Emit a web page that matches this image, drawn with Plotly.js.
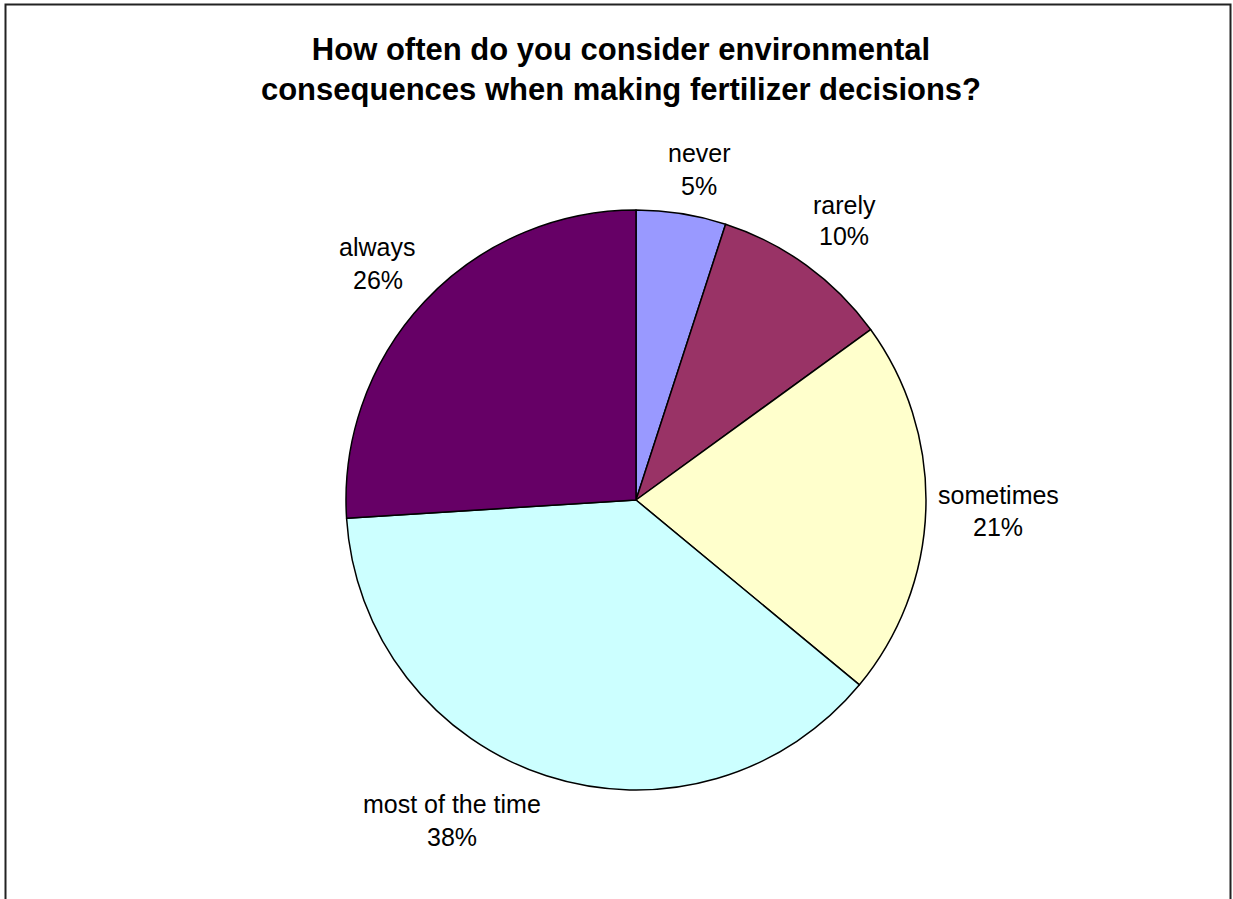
<!DOCTYPE html>
<html>
<head>
<meta charset="utf-8">
<script src="https://cdn.plot.ly/plotly-3.0.1.min.js"></script>
<style>
html,body{margin:0;padding:0;background:#fff;}
#chart{width:1233px;height:899px;}
</style>
</head>
<body>
<div id="chart"></div>
<script>
// Data
const categories = ["never", "rarely", "sometimes", "most of the time", "always"];
const percents = [5, 10, 21, 38, 26];
const colors = ["#9999FF", "#993366", "#FFFFCC", "#CCFFFF", "#660066"];
const chartTitle = "How often do you consider environmental<br>consequences when making fertilizer decisions?";

// Label placement (pixel centres of the two text lines of each label)
const labelPos = [
  {x1: 699, y1: 153, x2: 699, y2: 186},
  {x1: 844, y1: 205, x2: 844, y2: 236},
  {x1: 998, y1: 495, x2: 998, y2: 527},
  {x1: 452, y1: 804, x2: 452, y2: 837},
  {x1: 377, y1: 247, x2: 378, y2: 280}
];

const W = 1233, H = 899;
const px = x => x / W;
const py = y => 1 - y / H;

const cx = 636, cy = 500, r = 290;
const labelFont = {family:'Liberation Sans, Arial, sans-serif', size:25, color:'#000'};

const annotations = [];
categories.forEach((c, i) => {
  const p = labelPos[i];
  annotations.push({xref:'paper', yref:'paper', x: px(p.x1), y: py(p.y1), text: c,
    showarrow:false, xanchor:'center', yanchor:'middle', font: labelFont});
  annotations.push({xref:'paper', yref:'paper', x: px(p.x2), y: py(p.y2), text: percents[i] + '%',
    showarrow:false, xanchor:'center', yanchor:'middle', font: labelFont});
});

const trace = {
  type: 'pie',
  labels: categories,
  values: percents,
  sort: false,
  direction: 'clockwise',
  rotation: 0,
  textinfo: 'none',
  hoverinfo: 'label+percent',
  marker: {colors: colors, line: {color: '#000', width: 1.5}},
  domain: {x: [px(cx - r), px(cx + r)], y: [py(cy + r), py(cy - r)]},
  showlegend: false
};

const layout = {
  width: W, height: H,
  margin: {l:0, r:0, t:0, b:0},
  paper_bgcolor: '#fff',
  showlegend: false,
  title: {
    text: '<b>' + chartTitle + '</b>',
    x: px(621), xanchor: 'center',
    y: py(60), yanchor: 'middle',
    font: {family: 'Liberation Sans, Arial, sans-serif', size: 31, color: '#000'}
  },
  annotations: annotations,
  shapes: [{
    type: 'rect', xref: 'paper', yref: 'paper',
    x0: px(5.5), x1: px(1230.5), y0: -0.1, y1: py(4.5),
    line: {color: '#222', width: 2}, fillcolor: 'rgba(0,0,0,0)'
  }]
};

Plotly.newPlot('chart', [trace], layout, {displayModeBar: false, staticPlot: true});
</script>
</body>
</html>
